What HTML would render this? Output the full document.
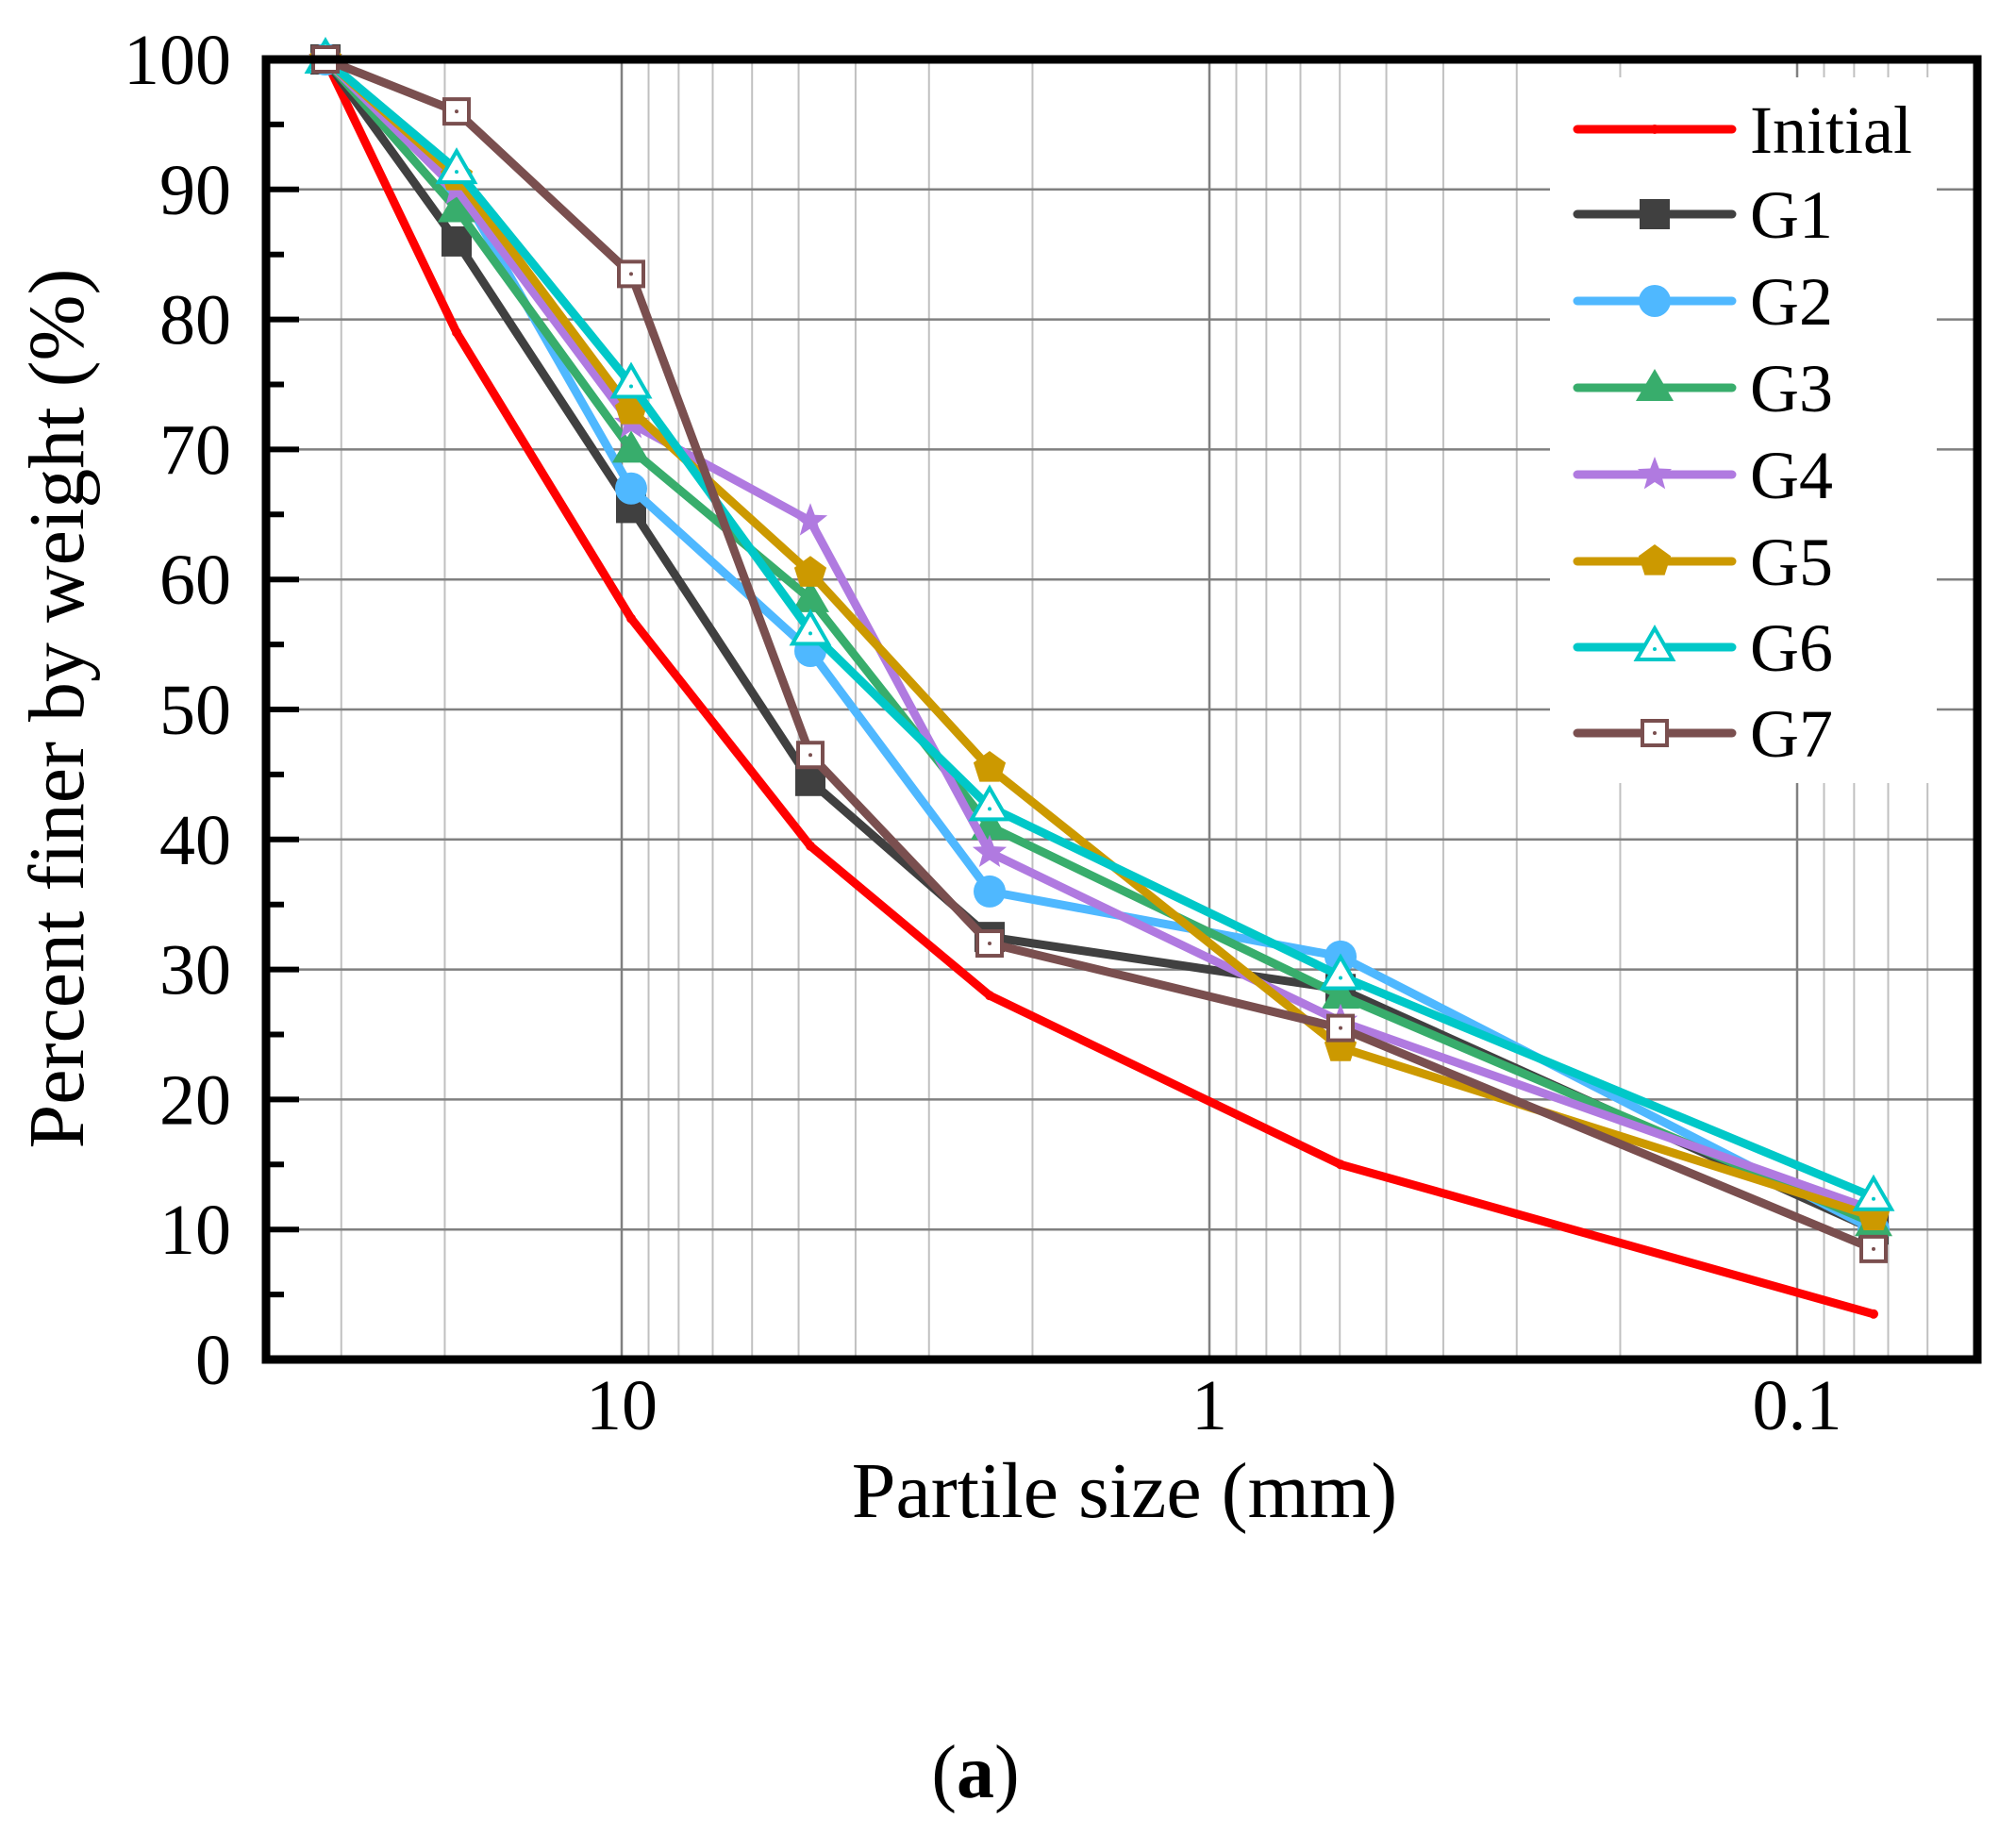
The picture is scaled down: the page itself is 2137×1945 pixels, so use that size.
<!DOCTYPE html>
<html><head><meta charset="utf-8"><style>
html,body{margin:0;padding:0;background:#fff}
svg{display:block}
text{font-family:"Liberation Serif","Times New Roman",serif;fill:#000}
</style></head><body>
<svg id="s" width="2137" height="1945" viewBox="0 0 2137 1945" xmlns="http://www.w3.org/2000/svg"></svg>
<script>
const S=document.getElementById('s');
let h='';
const L=282,R=2096,T=63,B=1441;
const yv=v=>B-(B-T)*v/100;
const xv=v=>659-Math.log10(v/10)*623;
[40,30,20,9,8,7,6,5,4,3,2,0.9,0.8,0.7,0.6,0.5,0.4,0.3,0.2,0.09,0.08,0.07,0.06,0.05].forEach(v=>{const x=xv(v);if(x>L&&x<R)h+=`<line x1="${x}" y1="${T}" x2="${x}" y2="${B}" stroke="#c0c0c0" stroke-width="2"/>`;});
[10,1,0.1].forEach(v=>{const x=xv(v);h+=`<line x1="${x}" y1="${T}" x2="${x}" y2="${B}" stroke="#808080" stroke-width="2.5"/>`;});
for(let v=10;v<100;v+=10){h+=`<line x1="${L}" y1="${yv(v)}" x2="${R}" y2="${yv(v)}" stroke="#808080" stroke-width="2.5"/>`;}
for(let v=0;v<=100;v+=5){const y=yv(v);const len=v%10?19:35;h+=`<line x1="${L}" y1="${y}" x2="${L+len}" y2="${y}" stroke="#000" stroke-width="6"/>`;}
for(let v=0;v<=100;v+=10){h+=`<text x="245" y="${yv(v)+26}" font-size="76" text-anchor="end">${v}</text>`;}
[[10,'10'],[1,'1'],[0.1,'0.1']].forEach(([v,t])=>{h+=`<text x="${xv(v)}" y="1515" font-size="76" text-anchor="middle">${t}</text>`;});
const xs=[345,484,669,859,1049,1421,1986];
const ser=[
['Initial','#ff0000','dot',[100,79,57,39.5,28,15,3.5]],
['G1','#404040','sq',[100,86,65.5,44.5,32.5,28.5,10]],
['G2','#4fb8ff','ci',[100,90.5,67,54.5,36,31,10]],
['G3','#38ad6c','tri',[100,88.5,70,58.5,41,28,10.5]],
['G4','#b07ae0','star',[100,90,72,64.5,39,26,11.5]],
['G5','#cc9900','pent',[100,91,73,60.5,45.5,24,11]],
['G6','#00c8c8','otri',[100,91.5,75,56,42.5,29.5,12.5]],
['G7','#7a4f4f','osq',[100,96,83.5,46.5,32,25.5,8.5]]];
function mk(t,c,x,y){
 switch(t){
 case 'dot':return `<circle cx="${x}" cy="${y}" r="5" fill="${c}"/>`;
 case 'sq':return `<rect x="${x-16}" y="${y-16}" width="32" height="32" fill="${c}"/>`;
 case 'ci':return `<circle cx="${x}" cy="${y}" r="17" fill="${c}"/>`;
 case 'tri':return `<polygon points="${x},${y-20} ${x+20},${y+14} ${x-20},${y+14}" fill="${c}"/>`;
 case 'star':{let p=[];for(let i=0;i<10;i++){const r=i%2?8:19,a=-Math.PI/2+i*Math.PI/5;p.push((x+r*Math.cos(a)).toFixed(1)+','+(y+r*Math.sin(a)).toFixed(1));}return `<polygon points="${p.join(' ')}" fill="${c}"/>`;}
 case 'pent':{let p=[];for(let i=0;i<5;i++){const a=-Math.PI/2+i*2*Math.PI/5;p.push((x+18*Math.cos(a)).toFixed(1)+','+(y+18*Math.sin(a)).toFixed(1));}return `<polygon points="${p.join(' ')}" fill="${c}"/>`;}
 case 'otri':return `<polygon points="${x},${y-20} ${x+19},${y+13} ${x-19},${y+13}" fill="#fff" stroke="${c}" stroke-width="4"/><circle cx="${x}" cy="${y+2}" r="2" fill="${c}"/>`;
 case 'osq':return `<rect x="${x-13}" y="${y-13}" width="26" height="26" fill="#fff" stroke="${c}" stroke-width="4"/><circle cx="${x}" cy="${y}" r="2" fill="${c}"/>`;
 }}
ser.forEach(([n,c,m,d])=>{const p=d.map((v,i)=>xs[i]+','+yv(v).toFixed(1)).join(' ');h+=`<polyline points="${p}" fill="none" stroke="${c}" stroke-width="9" stroke-linejoin="round" stroke-linecap="round"/>`;d.forEach((v,i)=>{h+=mk(m,c,xs[i],yv(v));});});
h+=`<rect x="1643" y="82" width="410" height="748" fill="#fff"/>`;
const ly2=[137,227,319,411,503,595,686,777];
ser.forEach(([n,c,m],i)=>{const y=ly2[i];h+=`<line x1="1672" y1="${y}" x2="1836" y2="${y}" stroke="${c}" stroke-width="9" stroke-linecap="round"/>`+mk(m,c,1754,y)+`<text x="1855" y="${y+25}" font-size="72">${n}</text>`;});
h+=`<rect x="${L}" y="${T}" width="${R-L}" height="${B-T}" fill="none" stroke="#000" stroke-width="9"/>`;
h+=`<text x="1192" y="1608" font-size="84" text-anchor="middle">Partile size (mm)</text>`;
h+=`<text transform="translate(88,751) rotate(-90)" font-size="84" text-anchor="middle">Percent finer by weight (%)</text>`;
h+=`<text x="1034" y="1905" font-size="80" text-anchor="middle">(<tspan font-weight="bold">a</tspan>)</text>`;
S.innerHTML=h;
</script>
</body></html>
